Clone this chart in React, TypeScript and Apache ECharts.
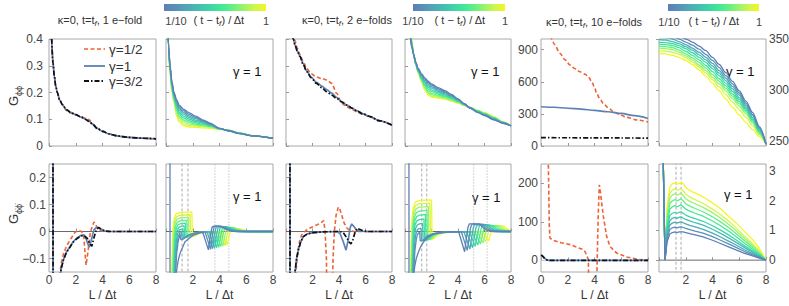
import React, { useEffect, useRef } from "react";
import * as echarts from "echarts";

const FONT = '"Liberation Sans", Arial, Helvetica, sans-serif';

// ================= DATA (x = L / Δt) =================
// Top row, panel A: 1 e-fold, G_φφ for γ = 1/2, 1, 3/2
const A_X = [0.2, 0.3, 0.4, 0.5, 0.62, 0.8, 1.0, 1.3, 1.6, 2.0, 2.4, 2.7, 3.0, 3.3, 3.6, 4.0, 4.5, 5.0, 5.5, 6.0, 7.0, 8.0];
const A_HALF = [0.4, 0.31, 0.26, 0.225, 0.2, 0.171, 0.153, 0.133, 0.124, 0.116, 0.109, 0.105, 0.098, 0.081, 0.067, 0.055, 0.045, 0.039, 0.035, 0.032, 0.029, 0.027];
const A_ONE = [0.4, 0.31, 0.26, 0.225, 0.2, 0.172, 0.155, 0.136, 0.126, 0.117, 0.108, 0.101, 0.093, 0.08, 0.066, 0.055, 0.045, 0.039, 0.035, 0.032, 0.029, 0.027];
const A_THREEHALF = [0.4, 0.31, 0.26, 0.225, 0.2, 0.172, 0.155, 0.136, 0.126, 0.117, 0.108, 0.1, 0.092, 0.079, 0.066, 0.055, 0.045, 0.039, 0.035, 0.032, 0.029, 0.027];

// Top row, panel B: 1 e-fold, γ = 1, t from 1/10 (row 0) to 1 (row 9)
const B_X = [0.1, 0.2, 0.3, 0.45, 0.6, 0.8, 1.0, 1.3, 1.7, 2.2, 2.8, 3.3, 4.0, 4.7, 5.5, 6.5, 8.0];
const B_CURVES = [
  [0.5, 0.37, 0.3, 0.24, 0.2, 0.172, 0.152, 0.138, 0.125, 0.112, 0.097, 0.085, 0.066, 0.056, 0.046, 0.038, 0.029],
  [0.5, 0.37, 0.3, 0.235, 0.196, 0.167, 0.146, 0.132, 0.119, 0.107, 0.094, 0.083, 0.066, 0.056, 0.046, 0.038, 0.029],
  [0.5, 0.37, 0.295, 0.23, 0.192, 0.161, 0.14, 0.126, 0.113, 0.102, 0.091, 0.081, 0.065, 0.057, 0.047, 0.038, 0.029],
  [0.5, 0.37, 0.293, 0.225, 0.187, 0.155, 0.133, 0.119, 0.107, 0.097, 0.088, 0.079, 0.065, 0.057, 0.047, 0.038, 0.029],
  [0.5, 0.365, 0.29, 0.22, 0.183, 0.148, 0.126, 0.112, 0.101, 0.092, 0.085, 0.077, 0.065, 0.058, 0.047, 0.038, 0.029],
  [0.5, 0.365, 0.287, 0.216, 0.178, 0.141, 0.119, 0.105, 0.095, 0.087, 0.081, 0.075, 0.064, 0.058, 0.048, 0.038, 0.029],
  [0.5, 0.364, 0.283, 0.212, 0.173, 0.134, 0.112, 0.098, 0.089, 0.082, 0.078, 0.073, 0.064, 0.058, 0.048, 0.038, 0.029],
  [0.5, 0.363, 0.28, 0.208, 0.169, 0.126, 0.104, 0.091, 0.083, 0.078, 0.075, 0.071, 0.063, 0.059, 0.048, 0.038, 0.029],
  [0.5, 0.362, 0.275, 0.204, 0.164, 0.118, 0.096, 0.083, 0.077, 0.074, 0.072, 0.069, 0.063, 0.059, 0.048, 0.038, 0.029],
  [0.5, 0.36, 0.27, 0.2, 0.16, 0.11, 0.088, 0.076, 0.071, 0.07, 0.068, 0.066, 0.062, 0.059, 0.047, 0.038, 0.029],
];

// Top row, panel C: 2 e-folds, G_φφ for γ = 1/2, 1, 3/2
const C_X = [0.4, 0.55, 0.7, 0.85, 1.06, 1.3, 1.56, 1.9, 2.3, 2.7, 3.07, 3.45, 3.82, 4.2, 4.58, 5.0, 5.33, 5.8, 6.34, 7.0, 8.0];
const C_HALF = [0.47, 0.42, 0.39, 0.365, 0.342, 0.315, 0.29, 0.27, 0.258, 0.252, 0.247, 0.234, 0.197, 0.16, 0.147, 0.136, 0.128, 0.119, 0.109, 0.095, 0.078];
const C_ONE = [0.45, 0.4, 0.375, 0.356, 0.335, 0.307, 0.281, 0.258, 0.238, 0.224, 0.211, 0.198, 0.182, 0.165, 0.153, 0.141, 0.132, 0.12, 0.11, 0.095, 0.078];
const C_THREEHALF = [0.45, 0.4, 0.375, 0.355, 0.334, 0.305, 0.278, 0.255, 0.234, 0.218, 0.203, 0.19, 0.178, 0.165, 0.153, 0.141, 0.132, 0.12, 0.11, 0.095, 0.078];

// Top row, panel D: 2 e-folds, γ = 1, t from 1/10 to 1
const D_X = [0.3, 0.4, 0.5, 0.65, 0.8, 1.0, 1.25, 1.5, 1.75, 2.0, 2.5, 3.0, 3.5, 4.0, 4.5, 4.9, 5.5, 6.0, 6.7, 7.4, 8.0];
const D_CURVES = [
  [0.45, 0.4, 0.37, 0.345, 0.315, 0.29, 0.27, 0.255, 0.242, 0.232, 0.218, 0.207, 0.193, 0.176, 0.157, 0.142, 0.125, 0.114, 0.098, 0.085, 0.075],
  [0.46, 0.41, 0.375, 0.344, 0.313, 0.287, 0.266, 0.25, 0.237, 0.228, 0.214, 0.203, 0.19, 0.175, 0.157, 0.142, 0.126, 0.115, 0.099, 0.085, 0.075],
  [0.46, 0.415, 0.38, 0.343, 0.312, 0.285, 0.262, 0.245, 0.232, 0.222, 0.209, 0.199, 0.187, 0.173, 0.156, 0.143, 0.127, 0.116, 0.1, 0.086, 0.075],
  [0.47, 0.42, 0.38, 0.342, 0.31, 0.283, 0.258, 0.24, 0.226, 0.216, 0.204, 0.195, 0.184, 0.171, 0.156, 0.143, 0.128, 0.117, 0.102, 0.087, 0.075],
  [0.47, 0.425, 0.385, 0.342, 0.309, 0.281, 0.255, 0.234, 0.219, 0.21, 0.199, 0.191, 0.181, 0.169, 0.155, 0.143, 0.129, 0.119, 0.103, 0.087, 0.075],
  [0.48, 0.43, 0.39, 0.341, 0.308, 0.279, 0.251, 0.228, 0.212, 0.204, 0.194, 0.187, 0.178, 0.167, 0.154, 0.143, 0.13, 0.12, 0.105, 0.088, 0.075],
  [0.48, 0.435, 0.39, 0.341, 0.307, 0.278, 0.248, 0.223, 0.205, 0.197, 0.19, 0.184, 0.175, 0.165, 0.153, 0.144, 0.131, 0.121, 0.106, 0.088, 0.075],
  [0.49, 0.44, 0.395, 0.34, 0.306, 0.276, 0.245, 0.218, 0.199, 0.192, 0.186, 0.18, 0.172, 0.163, 0.152, 0.144, 0.132, 0.123, 0.107, 0.089, 0.075],
  [0.49, 0.45, 0.4, 0.34, 0.305, 0.274, 0.241, 0.213, 0.194, 0.187, 0.182, 0.177, 0.17, 0.161, 0.152, 0.144, 0.132, 0.124, 0.109, 0.089, 0.075],
  [0.5, 0.46, 0.4, 0.34, 0.305, 0.272, 0.238, 0.208, 0.19, 0.183, 0.179, 0.175, 0.168, 0.16, 0.151, 0.144, 0.133, 0.125, 0.11, 0.09, 0.075],
];

// Top row, panel E: 10 e-folds, G_φφ for γ = 1/2, 1, 3/2
const E_HALF = [[0.6, 1150], [0.8, 1000], [1.0, 950], [1.42, 866], [1.8, 805], [2.17, 757], [2.5, 725], [2.92, 694], [3.3, 670], [3.54, 648], [3.79, 601], [4.0, 550], [4.16, 493], [4.4, 440], [4.66, 399], [5.0, 360], [5.41, 321], [5.9, 292], [6.41, 268], [7.2, 243], [8.0, 225]];
const E_ONE = [[0, 367], [1, 362], [2, 353], [3, 344], [4, 333], [5, 320], [6, 304], [7, 283], [8, 257]];
const E_THREEHALF = [[0, 78], [2, 77], [4, 76], [6, 75], [8, 74]];

// Top row, panel F: 10 e-folds, γ = 1, t from 1/10 to 1
const F_X = [0, 0.5, 1, 1.5, 2, 2.5, 3, 3.5, 4, 4.5, 5, 5.5, 6, 6.5, 7, 7.5, 8];
const F_CURVES = [
  [358, 357, 355.5, 353, 350, 347, 343, 338.5, 332, 325, 317, 308.5, 299, 289, 278, 264, 247],
  [355, 354, 352.5, 350, 347, 344, 340, 335, 329, 322, 314, 306, 297, 287, 276, 263, 247],
  [352, 351.5, 350, 347.5, 344.5, 341, 337, 332, 326, 319, 311.5, 303.5, 295, 285, 275, 262, 247],
  [349.5, 349, 347.5, 345.5, 342.5, 339, 334.5, 329.5, 323.5, 316.5, 309, 301, 292.5, 283, 273, 261, 247],
  [347, 346.5, 345.5, 343.5, 340.5, 336.5, 332, 327, 321, 314, 306.5, 298.5, 290.5, 281.5, 271.5, 260, 247],
  [345, 344.5, 343.5, 341.5, 338, 334, 329.5, 324, 318, 311, 304, 296, 288.5, 280, 270.5, 259, 247],
  [343, 342.5, 341.5, 339, 335.5, 331.5, 327, 321.5, 315, 308.5, 301.5, 294, 286.5, 278.5, 269, 258, 247],
  [341, 340.5, 339.5, 337, 333.5, 329.5, 324.5, 319, 312.5, 306, 299, 291.5, 284, 276.5, 267.5, 257, 247],
  [338.5, 338, 337, 335, 331.5, 327.5, 322.5, 316.5, 310, 303, 295.5, 288, 280.5, 273, 265, 256, 247],
  [336, 335.5, 334, 332, 329, 325, 319.5, 313.5, 306.5, 299, 291, 283, 275.5, 268, 261, 254, 247],
];

// Bottom row, panel G: 1 e-fold, G_φ̇φ̇ for γ = 1/2, 1, 3/2
const G_HALF = [[0.28, 3], [0.32, -3], [0.55, -0.5], [0.75, -0.19], [0.9, -0.12], [1.07, -0.085], [1.3, -0.055], [1.57, -0.032], [1.94, -0.003], [2.19, 0.004], [2.44, 0.0], [2.6, -0.02], [2.77, -0.125], [2.9, -0.08], [3.1, 0.0], [3.36, 0.035], [3.55, 0.02], [3.75, 0.005], [4.1, 0.0], [8, 0]];
const G_ONE = [[0.28, 3], [0.32, -3], [0.55, -0.6], [0.75, -0.22], [0.9, -0.14], [1.07, -0.105], [1.3, -0.076], [1.57, -0.056], [1.8, -0.038], [2.07, -0.025], [2.4, -0.014], [2.6, -0.012], [2.75, -0.025], [2.9, -0.045], [3.0, -0.058], [3.15, -0.035], [3.35, 0.005], [3.56, 0.016], [3.8, 0.01], [4.1, 0.002], [4.5, 0], [8, 0]];
const G_THREEHALF = [[0.28, 3], [0.32, -3], [0.55, -0.6], [0.75, -0.22], [0.9, -0.14], [1.07, -0.107], [1.3, -0.078], [1.57, -0.058], [1.8, -0.04], [2.07, -0.027], [2.4, -0.017], [2.6, -0.014], [2.85, -0.025], [3.05, -0.045], [3.2, -0.055], [3.35, -0.025], [3.55, 0.008], [3.72, 0.015], [3.9, 0.008], [4.2, 0.002], [4.6, 0], [8, 0]];

// Bottom row, panel H: 1 e-fold, γ = 1, t from 1/10 to 1
const H_CURVES = [
  [[0.28, 3], [0.32, -3], [0.5, -0.6], [0.65, -0.25], [0.75, -0.16], [0.9, -0.11], [1.05, -0.081], [1.42, -0.038], [2.04, -0.013], [2.6, -0.004], [2.75, -0.003], [3.17, -0.068], [3.3, -0.02], [3.45, 0.017], [3.6, 0.02], [4.05, 0.02], [4.4, 0.01], [4.8, 0.002], [5.2, 0], [8, 0]],
  [[0.62, -0.4], [0.72, -0.15], [0.8, -0.08], [0.9, -0.04], [1.0, -0.015], [1.05, -0.008], [1.1, -0.03], [1.3, -0.028], [1.6, -0.015], [2.1, -0.006], [2.6, -0.002], [2.92, -0.002], [3.33, -0.066], [3.45, -0.02], [3.6, 0.018], [3.75, 0.02], [4.2, 0.019], [4.55, 0.01], [4.95, 0.002], [5.4, 0], [8, 0]],
  [[0.58, -0.4], [0.68, -0.15], [0.78, -0.06], [0.9, -0.02], [1.05, -0.002], [1.15, 0.0], [1.2, -0.025], [1.4, -0.024], [1.7, -0.013], [2.2, -0.005], [2.7, -0.001], [3.07, -0.001], [3.48, -0.064], [3.6, -0.02], [3.75, 0.017], [3.9, 0.019], [4.35, 0.018], [4.7, 0.01], [5.1, 0.002], [5.5, 0], [8, 0]],
  [[0.54, -0.4], [0.64, -0.15], [0.74, -0.05], [0.85, -0.01], [1.0, 0.006], [1.25, 0.01], [1.3, -0.022], [1.5, -0.022], [1.8, -0.012], [2.3, -0.004], [2.8, -0.001], [3.22, -0.001], [3.63, -0.062], [3.75, -0.02], [3.9, 0.016], [4.05, 0.018], [4.5, 0.017], [4.85, 0.009], [5.25, 0.002], [5.7, 0], [8, 0]],
  [[0.5, -0.4], [0.6, -0.15], [0.7, -0.04], [0.8, 0.0], [0.95, 0.015], [1.2, 0.02], [1.35, 0.021], [1.4, -0.02], [1.6, -0.021], [1.9, -0.011], [2.4, -0.004], [2.9, -0.001], [3.38, -0.001], [3.79, -0.06], [3.91, -0.02], [4.06, 0.015], [4.2, 0.017], [4.65, 0.016], [5.0, 0.009], [5.4, 0.002], [5.85, 0], [8, 0]],
  [[0.46, -0.4], [0.56, -0.15], [0.66, -0.03], [0.76, 0.01], [0.9, 0.025], [1.15, 0.03], [1.45, 0.031], [1.5, -0.019], [1.7, -0.02], [2.0, -0.01], [2.5, -0.003], [3.0, -0.001], [3.54, -0.001], [3.95, -0.058], [4.07, -0.02], [4.22, 0.014], [4.36, 0.016], [4.8, 0.015], [5.15, 0.008], [5.55, 0.002], [6.0, 0], [8, 0]],
  [[0.43, -0.4], [0.52, -0.15], [0.62, -0.02], [0.72, 0.02], [0.85, 0.035], [1.1, 0.04], [1.55, 0.041], [1.6, -0.018], [1.8, -0.019], [2.1, -0.01], [2.6, -0.003], [3.1, -0.001], [3.69, -0.001], [4.1, -0.056], [4.22, -0.02], [4.37, 0.013], [4.51, 0.015], [4.95, 0.014], [5.3, 0.008], [5.7, 0.002], [6.15, 0], [8, 0]],
  [[0.4, -0.4], [0.49, -0.15], [0.58, -0.01], [0.68, 0.03], [0.8, 0.045], [1.05, 0.05], [1.68, 0.052], [1.73, -0.017], [1.93, -0.018], [2.2, -0.009], [2.7, -0.003], [3.2, -0.001], [3.85, -0.001], [4.26, -0.054], [4.38, -0.02], [4.53, 0.012], [4.67, 0.014], [5.1, 0.013], [5.45, 0.007], [5.85, 0.002], [6.3, 0], [8, 0]],
  [[0.37, -0.4], [0.46, -0.15], [0.55, 0.0], [0.65, 0.04], [0.78, 0.055], [1.0, 0.06], [1.8, 0.062], [1.85, -0.016], [2.05, -0.017], [2.3, -0.009], [2.8, -0.003], [3.3, -0.001], [4.01, -0.001], [4.42, -0.052], [4.54, -0.02], [4.69, 0.011], [4.83, 0.013], [5.25, 0.012], [5.6, 0.007], [6.0, 0.002], [6.45, 0], [8, 0]],
  [[0.34, -0.4], [0.43, -0.15], [0.52, 0.01], [0.62, 0.05], [0.75, 0.065], [1.0, 0.07], [1.93, 0.073], [1.98, -0.015], [2.2, -0.016], [2.45, -0.008], [2.9, -0.002], [3.4, -0.001], [4.17, -0.001], [4.58, -0.05], [4.7, -0.02], [4.85, 0.01], [5.0, 0.012], [5.4, 0.011], [5.75, 0.006], [6.15, 0.002], [6.6, 0], [8, 0]],
];
const H_MARKS_DASHED = [1.2, 1.64];
const H_MARKS_DOTTED = [3.66, 4.7];

// Bottom row, panel I: 2 e-folds, G_φ̇φ̇ for γ = 1/2, 1, 3/2
const I_HALF = [[0.28, 3], [0.32, -3], [0.5, -0.5], [0.75, -0.15], [0.9, -0.07], [1.05, -0.03], [1.18, -0.013], [1.56, 0.006], [1.9, 0.015], [2.31, 0.024], [2.6, 0.031], [2.85, 0.04], [2.95, 0.0], [3.05, -0.1], [3.1, -0.3], [3.45, -0.3], [3.55, -0.1], [3.65, 0.0], [3.78, 0.06], [3.95, 0.09], [4.05, 0.085], [4.2, 0.061], [4.4, 0.03], [4.58, 0.014], [4.8, 0.004], [5.1, 0], [8, 0]];
const I_ONE = [[0.28, 3], [0.32, -3], [0.5, -0.6], [0.68, -0.15], [0.8, -0.1], [0.93, -0.069], [1.1, -0.04], [1.31, -0.019], [1.6, -0.009], [2.06, -0.004], [3, -0.001], [3.9, 0], [4.1, -0.01], [4.3, -0.035], [4.53, -0.069], [4.7, -0.03], [4.85, 0.015], [4.96, 0.028], [5.1, 0.02], [5.33, 0.005], [5.6, 0.001], [6, 0], [8, 0]];
const I_THREEHALF = [[0.28, 3], [0.32, -3], [0.5, -0.6], [0.68, -0.15], [0.8, -0.1], [0.93, -0.069], [1.1, -0.04], [1.31, -0.019], [1.6, -0.009], [2.06, -0.004], [3, -0.001], [4.0, 0], [4.3, -0.003], [4.55, -0.02], [4.75, -0.038], [4.9, -0.046], [5.05, -0.03], [5.2, -0.005], [5.38, 0.012], [5.55, 0.008], [5.83, 0.002], [6.2, 0], [8, 0]];

// Bottom row, panel J: 2 e-folds, γ = 1, t from 1/10 to 1
const J_CURVES = [
  [[0.28, 3], [0.32, -3], [0.5, -0.6], [0.68, -0.15], [0.75, -0.125], [0.85, -0.1], [1.0, -0.078], [1.2, -0.055], [1.38, -0.04], [1.7, -0.022], [2.14, -0.01], [2.9, -0.003], [3.6, -0.001], [4.05, -0.001], [4.5, -0.075], [4.62, -0.03], [4.75, 0.015], [4.85, 0.028], [5.6, 0.028], [5.9, 0.014], [6.2, 0.004], [6.6, 0], [8, 0]],
  [[0.55, -0.4], [0.65, -0.15], [0.75, -0.07], [0.85, -0.03], [0.95, -0.01], [1.1, -0.003], [1.15, -0.035], [1.35, -0.033], [1.65, -0.018], [2.1, -0.008], [2.8, -0.002], [3.6, -0.001], [4.25, -0.001], [4.7, -0.07], [4.82, -0.028], [4.95, 0.014], [5.05, 0.027], [5.8, 0.027], [6.1, 0.013], [6.4, 0.004], [6.8, 0], [8, 0]],
  [[0.52, -0.4], [0.62, -0.15], [0.72, -0.05], [0.82, -0.01], [0.95, 0.008], [1.2, 0.013], [1.25, -0.035], [1.45, -0.032], [1.75, -0.017], [2.2, -0.008], [2.9, -0.002], [3.7, -0.001], [4.45, -0.001], [4.9, -0.065], [5.02, -0.026], [5.15, 0.013], [5.25, 0.026], [6.0, 0.026], [6.3, 0.013], [6.6, 0.004], [7.0, 0], [8, 0]],
  [[0.49, -0.4], [0.59, -0.15], [0.69, -0.03], [0.79, 0.01], [0.92, 0.024], [1.15, 0.029], [1.32, 0.03], [1.37, -0.034], [1.57, -0.031], [1.85, -0.016], [2.3, -0.007], [3.0, -0.002], [3.8, -0.001], [4.65, -0.001], [5.1, -0.06], [5.22, -0.024], [5.35, 0.012], [5.45, 0.025], [6.2, 0.025], [6.5, 0.012], [6.8, 0.004], [7.2, 0], [8, 0]],
  [[0.46, -0.4], [0.56, -0.15], [0.66, -0.01], [0.76, 0.025], [0.9, 0.04], [1.15, 0.045], [1.43, 0.047], [1.48, -0.033], [1.68, -0.03], [1.95, -0.015], [2.4, -0.007], [3.1, -0.002], [3.9, -0.001], [4.85, -0.001], [5.3, -0.055], [5.42, -0.022], [5.55, 0.011], [5.65, 0.024], [6.4, 0.024], [6.7, 0.012], [7.0, 0.004], [7.4, 0], [8, 0]],
  [[0.43, -0.4], [0.53, -0.15], [0.63, 0.0], [0.73, 0.038], [0.87, 0.055], [1.1, 0.061], [1.54, 0.063], [1.59, -0.032], [1.79, -0.029], [2.05, -0.014], [2.5, -0.006], [3.2, -0.002], [4.0, -0.001], [5.05, -0.001], [5.5, -0.05], [5.62, -0.02], [5.75, 0.01], [5.85, 0.023], [6.6, 0.023], [6.9, 0.011], [7.2, 0.004], [7.6, 0], [8, 0]],
  [[0.4, -0.4], [0.5, -0.15], [0.6, 0.01], [0.7, 0.05], [0.84, 0.069], [1.05, 0.075], [1.65, 0.078], [1.7, -0.031], [1.9, -0.028], [2.15, -0.014], [2.6, -0.006], [3.3, -0.002], [4.1, -0.001], [5.25, -0.001], [5.7, -0.046], [5.82, -0.018], [5.95, 0.01], [6.05, 0.022], [6.8, 0.022], [7.1, 0.011], [7.4, 0.004], [7.8, 0], [8, 0]],
  [[0.37, -0.4], [0.47, -0.15], [0.57, 0.02], [0.67, 0.062], [0.81, 0.082], [1.0, 0.089], [1.76, 0.092], [1.81, -0.03], [2.0, -0.027], [2.25, -0.013], [2.7, -0.005], [3.4, -0.002], [4.2, -0.001], [5.45, -0.001], [5.9, -0.042], [6.02, -0.016], [6.15, 0.009], [6.25, 0.022], [7.0, 0.022], [7.3, 0.011], [7.6, 0.004], [8, 0]],
  [[0.35, -0.4], [0.44, -0.15], [0.54, 0.03], [0.64, 0.074], [0.78, 0.095], [1.0, 0.102], [1.88, 0.105], [1.93, -0.029], [2.1, -0.026], [2.35, -0.012], [2.8, -0.005], [3.5, -0.002], [4.3, -0.001], [5.65, -0.001], [6.1, -0.038], [6.22, -0.015], [6.35, 0.009], [6.45, 0.021], [7.2, 0.021], [7.5, 0.01], [7.8, 0.003], [8, 0.001]],
  [[0.33, -0.4], [0.42, -0.15], [0.52, 0.04], [0.62, 0.085], [0.76, 0.108], [1.0, 0.114], [2.0, 0.117], [2.05, -0.028], [2.2, -0.025], [2.45, -0.012], [2.9, -0.005], [3.6, -0.002], [4.4, -0.001], [5.85, -0.001], [6.3, -0.035], [6.42, -0.014], [6.55, 0.008], [6.65, 0.021], [7.4, 0.021], [7.7, 0.01], [8, 0.003]],
];
const J_MARKS_DASHED = [1.26, 1.64];
const J_MARKS_DOTTED = [5.18, 6.2];

// Bottom row, panel K: 10 e-folds, G_φ̇φ̇ for γ = 1/2, 1, 3/2
const K_HALF = [[0.5, 400], [0.55, 250], [0.62, 90], [0.67, 58], [0.92, 52], [1.5, 46], [2.17, 41], [2.7, 34], [3.16, 28], [3.29, 23], [3.42, 12], [3.54, 2], [3.58, -100], [4.14, -100], [4.2, 0], [4.28, 120], [4.36, 196], [4.45, 175], [4.66, 114], [4.91, 62], [5.16, 36], [5.66, 19], [6.41, 9], [7.2, 3], [8, 0.5]];
const K_ONE = [[0, 13], [0.15, 10], [0.4, 2], [0.6, 0], [8, 0]];
const K_THREEHALF = [[0, 14], [0.1, 12], [0.25, 6], [0.42, 1.5], [0.6, 0], [8, 0]];

// Bottom row, panel L: 10 e-folds, γ = 1, t from 1/10 to 1
const L_X = [0.25, 0.45, 0.6, 0.8, 1.0, 1.2, 1.35, 1.5, 1.65, 1.8, 2.0, 2.3, 2.7, 3.3, 4.0, 4.6, 5.2, 5.8, 6.4, 7.0, 7.5, 8.0];
const L_CURVES = [
  [5, 0, 0.6, 0.88, 0.93, 0.95, 0.93, 0.95, 0.955, 0.95, 0.93, 0.89, 0.85, 0.786, 0.67, 0.56, 0.45, 0.337, 0.23, 0.14, 0.07, 0],
  [5, 0, 0.7, 1.03, 1.09, 1.11, 1.09, 1.11, 1.12, 1.1, 1.07, 1.03, 0.98, 0.91, 0.79, 0.67, 0.55, 0.42, 0.29, 0.18, 0.09, 0],
  [5, 0, 0.8, 1.18, 1.25, 1.28, 1.25, 1.27, 1.29, 1.26, 1.22, 1.17, 1.12, 1.04, 0.91, 0.78, 0.64, 0.5, 0.35, 0.22, 0.11, 0],
  [5, 0, 0.9, 1.33, 1.41, 1.44, 1.41, 1.44, 1.46, 1.42, 1.37, 1.32, 1.26, 1.18, 1.04, 0.9, 0.75, 0.59, 0.42, 0.27, 0.14, 0],
  [5, 0, 1.0, 1.5, 1.58, 1.61, 1.58, 1.61, 1.63, 1.58, 1.52, 1.46, 1.4, 1.31, 1.16, 1.01, 0.85, 0.67, 0.48, 0.31, 0.16, 0],
  [5, 0, 1.15, 1.71, 1.8, 1.84, 1.8, 1.83, 1.86, 1.8, 1.72, 1.65, 1.58, 1.48, 1.32, 1.16, 0.98, 0.78, 0.57, 0.37, 0.19, 0],
  [5, 0, 1.3, 1.9, 2.0, 2.04, 2.0, 2.03, 2.06, 2.0, 1.9, 1.82, 1.74, 1.63, 1.46, 1.29, 1.1, 0.88, 0.65, 0.43, 0.23, 0],
  [5, 0, 1.45, 2.08, 2.19, 2.23, 2.19, 2.22, 2.25, 2.18, 2.07, 1.98, 1.9, 1.78, 1.6, 1.42, 1.21, 0.98, 0.73, 0.49, 0.27, 0],
  [5, 0, 1.6, 2.25, 2.36, 2.4, 2.36, 2.38, 2.41, 2.34, 2.22, 2.13, 2.04, 1.91, 1.72, 1.54, 1.32, 1.07, 0.81, 0.55, 0.31, 0],
  [5, 0, 1.8, 2.45, 2.58, 2.6, 2.56, 2.58, 2.62, 2.58, 2.45, 2.35, 2.26, 2.13, 1.93, 1.73, 1.48, 1.24, 0.96, 0.69, 0.4, 0],
];
const L_MARKS_DASHED = [1.27, 1.65];

// Tick labels
const X_TICKS = [0, 2, 4, 6, 8];
const TOP_TICKS = [0, 0.1, 0.2, 0.3, 0.4];
const TOP_TEN_TICKS = [0, 300, 600, 900];
const TOP_TEN_GAMMA1_TICKS = [250, 300, 350];
const BOTTOM_TICKS = [-0.1, 0, 0.1, 0.2];
const BOTTOM_TEN_TICKS = [0, 100, 200];
const BOTTOM_TEN_GAMMA1_TICKS = [0, 1, 2, 3];

// Text
const TITLES = ["1 e\u2212fold", "2 e\u2212folds", "10 e\u2212folds"];
const LEGEND_LABELS = ["\u03b3=1/2", "\u03b3=1", "\u03b3=3/2"];
const GAMMA_LABEL = "\u03b3 = 1";

// ================= STYLE / LAYOUT =================
const RED = "#ee6234";
const BLUE = "#5e81b5";
const BLACK = "#111111";
const FAMILY_COLORS = ["#5e7fb6", "#5891b8", "#4fa7b7", "#45bdb1", "#3fd4a6", "#3fe897", "#64ef85", "#9af36c", "#cff64c", "#f5f526"];
const LEFTS = [49, 166, 286, 405, 541, 659];
const WIDTHS = [107, 107, 106, 106, 107, 107];
const ROW_TOPS = [39, 164];
const ROW_HEIGHTS = [107, 108];

const fmt = (v: number) => {
  const n = Math.round(v * 1000) / 1000;
  return n < 0 ? "\u2212" + String(-n) : String(n);
};

const zip = (xs: number[], ys: number[]) => xs.map((x, k) => [x, ys[k]]);

function buildOption() {
  const grid: any[] = [];
  const xAxis: any[] = [];
  const yAxis: any[] = [];
  const series: any[] = [];

  for (let r = 0; r < 2; r++) {
    for (let c = 0; c < 6; c++) {
      const g = r * 6 + c;
      grid.push({
        left: LEFTS[c], top: ROW_TOPS[r], width: WIDTHS[c], height: ROW_HEIGHTS[r],
        show: true, borderColor: "#a8a8a8", borderWidth: 1, backgroundColor: "transparent",
        containLabel: false, outerBoundsMode: "none",
      });
      const showZero = c === 0 || c === 4;
      xAxis.push({
        type: "value", gridIndex: g, min: 0, max: 8,
        axisLine: { show: false }, splitLine: { show: false },
        axisTick: { show: true, inside: true, length: 3, lineStyle: { color: "#999" }, customValues: X_TICKS },
        axisLabel: {
          show: r === 1, customValues: X_TICKS, color: "#444", fontSize: 12, fontFamily: FONT, margin: 2,
          formatter: (v: number) => (v === 0 && !showZero ? "" : String(v)),
        },
        name: r === 1 ? "L / \u0394t" : "", nameLocation: "middle", nameGap: 17,
        nameTextStyle: { color: "#333", fontSize: 12, fontFamily: FONT },
      });
      let ycfg: any;
      if (r === 0) {
        if (c <= 3) ycfg = { min: 0, max: 0.4, ticks: TOP_TICKS, show: c === 0, pos: "left", margin: 6 };
        else if (c === 4) ycfg = { min: 0, max: 1000, ticks: TOP_TEN_TICKS, show: true, pos: "left", margin: 3 };
        else ycfg = { min: 245, max: 350, ticks: TOP_TEN_GAMMA1_TICKS, show: true, pos: "right", margin: 3 };
      } else {
        if (c <= 3) ycfg = { min: -0.15, max: 0.25, ticks: BOTTOM_TICKS, show: c === 0, pos: "left", margin: 3 };
        else if (c === 4) ycfg = { min: -30, max: 250, ticks: BOTTOM_TEN_TICKS, show: true, pos: "left", margin: 3 };
        else ycfg = { min: -0.4, max: 3.24, ticks: BOTTOM_TEN_GAMMA1_TICKS, show: true, pos: "right", margin: 3 };
      }
      yAxis.push({
        type: "value", gridIndex: g, min: ycfg.min, max: ycfg.max, position: ycfg.pos,
        axisLine: { show: false }, splitLine: { show: false },
        axisTick: { show: true, inside: true, length: 3, lineStyle: { color: "#999" }, customValues: ycfg.ticks },
        axisLabel: {
          show: ycfg.show, customValues: ycfg.ticks, color: "#444", fontSize: 12, fontFamily: FONT,
          margin: ycfg.margin, formatter: fmt,
        },
      });
    }
  }

  const line = (g: number, data: any[], color: string, width: number, dash: any, smooth = 0) => ({
    type: "line", xAxisIndex: g, yAxisIndex: g, data, symbol: "none", silent: true,
    smooth, smoothMonotone: smooth ? "x" : undefined, clip: true,
    lineStyle: { color, width, type: dash },
  });
  const DASH = [4, 2.5];
  const DASHDOT = [5, 2, 1.5, 2];

  // zero lines and markers (beneath curves)
  for (const g of [6, 7, 8, 9, 10, 11]) {
    series.push(line(g, [[0, 0], [8, 0]], g === 10 ? "#cfcfcf" : "#6a6a6a", 1, "solid"));
  }
  const marks = (g: number, xs: number[], dash: any, lo: number, hi: number) =>
    xs.forEach((x) => series.push(line(g, [[x, lo], [x, hi]], "#b9b9b9", 1.2, dash)));
  marks(7, H_MARKS_DASHED, [3, 2], -1, 1);
  marks(7, H_MARKS_DOTTED, [1, 2], -1, 1);
  marks(9, J_MARKS_DASHED, [3, 2], -1, 1);
  marks(9, J_MARKS_DOTTED, [1, 2], -1, 1);
  marks(11, L_MARKS_DASHED, [3, 2], -1, 5);

  // three-gamma panels
  const trio = (g: number, half: any[], one: any[], three: any[], sm: number) => {
    series.push(line(g, half, RED, 1.6, DASH, sm));
    series.push(line(g, one, BLUE, 1.7, "solid", sm));
    series.push(line(g, three, BLACK, 1.7, DASHDOT, sm));
  };
  trio(0, zip(A_X, A_HALF), zip(A_X, A_ONE), zip(A_X, A_THREEHALF), 0.3);
  trio(2, zip(C_X, C_HALF), zip(C_X, C_ONE), zip(C_X, C_THREEHALF), 0.3);
  trio(4, E_HALF, E_ONE, E_THREEHALF, 0.3);
  trio(6, G_HALF, G_ONE, G_THREEHALF, 0);
  trio(8, I_HALF, I_ONE, I_THREEHALF, 0);
  trio(10, K_HALF, K_ONE, K_THREEHALF, 0);

  // gamma = 1 families (t = 1 drawn first, t = 1/10 last)
  const family = (g: number, curves: any[][], sm: number) => {
    for (let i = curves.length - 1; i >= 0; i--) series.push(line(g, curves[i], FAMILY_COLORS[i], 1.3, "solid", sm));
  };
  family(1, B_CURVES.map((row) => zip(B_X, row)), 0.3);
  family(3, D_CURVES.map((row) => zip(D_X, row)), 0.3);
  family(5, F_CURVES.map((row) => zip(F_X, row)), 0.3);
  family(7, H_CURVES, 0);
  family(9, J_CURVES, 0);
  family(11, L_CURVES.map((row) => zip(L_X, row)), 0);

  // ---------- graphics ----------
  const graphic: any[] = [];
  const text = (x: number, y: number, t: string, size: number, extra: any = {}) => ({
    type: "text", x, y, silent: true,
    style: {
      text: t, fill: "#333", fontSize: size, fontFamily: FONT,
      align: extra.align || "center", verticalAlign: "middle",
      textAlign: extra.align || "center", textVerticalAlign: "middle", ...(extra.style || {}),
    },
    ...(extra.el || {}),
  });
  const subRich = (size: number) => ({
    n: { fontSize: size, fontFamily: FONT, fill: "#333", verticalAlign: "top", lineHeight: size + 2 },
    s: { fontSize: size - 3, fontFamily: FONT, fill: "#333", fontStyle: "italic", verticalAlign: "top", lineHeight: size - 3, padding: [5, 0, 0, 0] },
  });

  // titles
  const titleX = [100, 347, 594];
  const titleY = [21, 21, 23];
  TITLES.forEach((tt, k) => {
    graphic.push(text(titleX[k], titleY[k], `{n|\u03ba=0, t=t}{s|f}{n|, ${tt}}`, 11, { style: { rich: subRich(11) } }));
  });

  // colorbars
  const bars = [
    { x: 164, w: 102, l: 176, m: 219, r: 266, ty: 20.5 },
    { x: 413, w: 92, l: 413, m: 460, r: 505, ty: 20.5 },
    { x: 668, w: 91, l: 669, m: 714, r: 759, ty: 22 },
  ];
  const stops = FAMILY_COLORS.map((col, k) => ({ offset: k / (FAMILY_COLORS.length - 1), color: col }));
  bars.forEach((b) => {
    graphic.push({
      type: "rect", silent: true, shape: { x: b.x, y: 4, width: b.w, height: 7 },
      style: { fill: { type: "linear", x: 0, y: 0, x2: 1, y2: 0, colorStops: stops } },
    });
    graphic.push(text(b.l, b.ty, "1/10", 11, { style: { fill: "#444" } }));
    graphic.push(text(b.r, b.ty, "1", 11, { style: { fill: "#444" } }));
    graphic.push(text(b.m, b.ty, "{n|( t \u2212 t}{s|f}{n|) / \u0394t}", 11, { style: { rich: subRich(11) } }));
  });

  // legend in first panel
  const legY = [49, 66, 81];
  const legStyles = [
    { stroke: RED, lineWidth: 1.6, lineDash: DASH },
    { stroke: BLUE, lineWidth: 1.8 },
    { stroke: BLACK, lineWidth: 1.8, lineDash: DASHDOT },
  ];
  legY.forEach((y, k) => {
    graphic.push({ type: "line", silent: true, shape: { x1: 84, y1: y, x2: 105, y2: y }, style: legStyles[k] });
    graphic.push(text(109, y, LEGEND_LABELS[k], 13.5, { align: "left" }));
  });

  // gamma = 1 labels
  const gpos = [[233, 71], [471, 71], [726, 71], [233, 196], [472, 197], [724, 194]];
  gpos.forEach(([x, y]) => graphic.push(text(x, y, GAMMA_LABEL, 13, { align: "left", style: { fill: "#111" } })));

  // y-axis titles
  const yRich = (size: number) => ({
    n: { fontSize: size, fontFamily: FONT, fill: "#333", verticalAlign: "top", lineHeight: size + 1 },
    s: { fontSize: size - 4, fontFamily: FONT, fill: "#333", verticalAlign: "top", lineHeight: size - 4, padding: [7, 0, 0, 0] },
  });
  graphic.push(text(14, 96, "{n|G}{s|\u03d5\u03d5}", 13, { style: { rich: yRich(13) }, el: { rotation: Math.PI / 2 } }));
  graphic.push(text(14, 214, "{n|G}{s|\u03d5\u0307\u03d5\u0307}", 13, { style: { rich: yRich(13) }, el: { rotation: Math.PI / 2 } }));

  return {
    animation: false,
    textStyle: { fontFamily: FONT },
    grid, xAxis, yAxis, series, graphic,
  };
}

export default function App() {
  const ref = useRef<HTMLDivElement>(null);
  useEffect(() => {
    document.body.style.margin = "0";
    const chart = echarts.init(ref.current as HTMLDivElement, null, { renderer: "svg" });
    chart.setOption(buildOption() as any);
    return () => chart.dispose();
  }, []);
  return <div ref={ref} style={{ width: 789, height: 306, background: "#fff" }} />;
}
